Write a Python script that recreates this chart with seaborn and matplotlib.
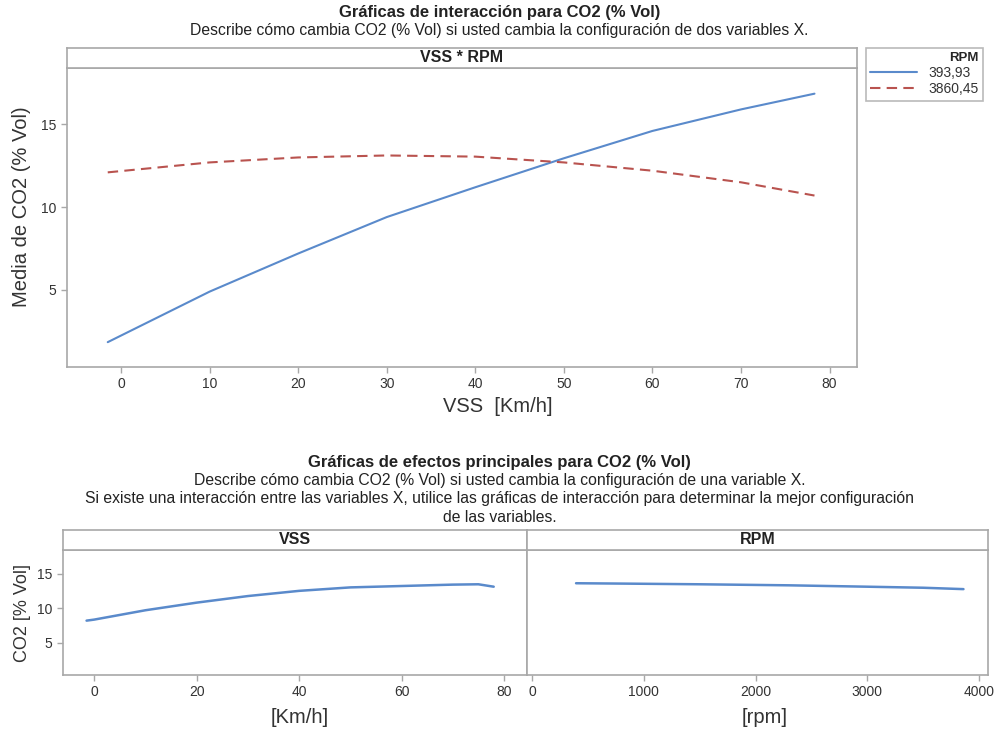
import numpy as np
import pandas as pd
import seaborn as sns
import matplotlib
matplotlib.use("Agg")
import matplotlib.pyplot as plt
from matplotlib.lines import Line2D

sns.set_theme(style="white")
plt.rcParams['font.family'] = ['Liberation Sans', 'DejaVu Sans']

# Interaction plot: fitted mean CO2 vs VSS for the two RPM levels
vss_pts = [-1.5, 10, 20, 30, 40, 50, 60, 70, 78.3]
co2_rpm_low = [1.85, 4.9, 7.2, 9.4, 11.2, 12.95, 14.6, 15.9, 16.85]
co2_rpm_high = [12.1, 12.7, 13.0, 13.12, 13.05, 12.7, 12.2, 11.5, 10.7]
rpm_levels = ["393,93", "3860,45"]

# Main effects: VSS and RPM
vss_main_x = [-1.5, 0, 10, 20, 30, 40, 50, 60, 70, 75, 78]
vss_main_y = [8.2, 8.35, 9.7, 10.8, 11.75, 12.5, 13.0, 13.2, 13.4, 13.45, 13.1]
rpm_main_x = [393.93, 800, 1500, 2300, 3000, 3500, 3860.45]
rpm_main_y = [13.6, 13.55, 13.45, 13.3, 13.1, 12.95, 12.75]

BLUE = "#5A8ACB"
RED = "#B9534F"
SPINE = "#A8A8A8"
TXT = "#333333"

W, H = 999, 736
fig = plt.figure(figsize=(W / 100, H / 100), dpi=100)


def px_axes(x0, y0, x1, y1):
    return fig.add_axes([x0 / W, 1 - y1 / H, (x1 - x0) / W, (y1 - y0) / H])


def style_axes(ax):
    for s in ax.spines.values():
        s.set_color(SPINE)
        s.set_linewidth(1.2)
    ax.tick_params(axis="both", which="both", direction="out", length=4,
                   width=1, color=SPINE, labelsize=10, labelcolor=TXT,
                   bottom=True, left=True)
    ax.grid(False)


def strip(x0, y0, x1, y1, label):
    sa = px_axes(x0, y0, x1, y1)
    sa.set_xticks([])
    sa.set_yticks([])
    for s in sa.spines.values():
        s.set_color(SPINE)
        s.set_linewidth(1.2)
    sa.text(0.5, 0.5, label, ha="center", va="center", fontsize=11.5,
            fontweight="bold", color="#222222", transform=sa.transAxes)
    return sa


def ftext(ypx, s, size, bold=False):
    fig.text(0.5, 1 - ypx / H, s, ha="center", va="center", fontsize=size,
             fontweight="bold" if bold else "normal", color="#222222")


# ---- top: interaction plot ----
df_int = pd.DataFrame({
    "VSS": vss_pts * 2,
    "CO2": co2_rpm_low + co2_rpm_high,
    "RPM": [rpm_levels[0]] * len(vss_pts) + [rpm_levels[1]] * len(vss_pts),
})

ax1 = px_axes(67, 68, 857, 367)
sns.lineplot(data=df_int, x="VSS", y="CO2", hue="RPM", style="RPM",
             palette=[BLUE, RED], dashes=[(None, None), (5, 3)],
             linewidth=1.5, ax=ax1, legend=False)
ax1.set_xlim(-6.1, 83.1)
ax1.set_ylim(0.35, 18.4)
ax1.set_xticks(range(0, 81, 10))
ax1.set_yticks([5, 10, 15])
style_axes(ax1)
ax1.set_xlabel("VSS  [Km/h]", fontsize=14.5, color=TXT)
ax1.xaxis.set_label_coords((498 - 67) / 790, -(397 - 367) / 299)
ax1.set_ylabel("Media de CO2 (% Vol)", fontsize=14.5, color=TXT)
ax1.yaxis.set_label_coords(-(67 - 31) / 790, (367 - 207) / 299)
strip(67, 48, 857, 68, "VSS * RPM")

ftext(13, "Gráficas de interacción para CO2 (% Vol)", 12, bold=True)
ftext(31, "Describe cómo cambia CO2 (% Vol) si usted cambia la configuración de dos variables X.", 11.3)

# legend
handles = [Line2D([], [], color=BLUE, lw=1.5),
           Line2D([], [], color=RED, lw=1.5, dashes=(5, 3))]
leg = fig.legend(handles, rpm_levels, title="RPM", loc="upper left",
                 bbox_to_anchor=(866 / W, 1 - 48 / H), borderaxespad=0,
                 frameon=True, fontsize=10, title_fontsize=9.5,
                 handlelength=3.4, borderpad=0.3, labelspacing=0.15,
                 alignment="right", fancybox=False)
leg.get_frame().set_edgecolor(SPINE)
leg.get_frame().set_linewidth(1.2)
leg.get_title().set_fontweight("bold")
for t in leg.get_texts():
    t.set_color(TXT)

# ---- bottom: main effects ----
ftext(463, "Gráficas de efectos principales para CO2 (% Vol)", 12, bold=True)
ftext(481, "Describe cómo cambia CO2 (% Vol) si usted cambia la configuración de una variable X.", 11.3)
ftext(499, "Si existe una interacción entre las variables X, utilice las gráficas de interacción para determinar la mejor configuración", 11.3)
ftext(517, "de las variables.", 11.3)

df_vss = pd.DataFrame({"x": vss_main_x, "y": vss_main_y})
df_rpm = pd.DataFrame({"x": rpm_main_x, "y": rpm_main_y})

ax2 = px_axes(63, 550, 527, 675)
sns.lineplot(data=df_vss, x="x", y="y", color=BLUE, linewidth=1.8, ax=ax2)
ax2.set_xlim(-6.1, 84.5)
ax2.set_ylim(0.35, 18.4)
ax2.set_xticks(range(0, 81, 20))
ax2.set_yticks([5, 10, 15])
style_axes(ax2)
ax2.set_xlabel("[Km/h]", fontsize=14.5, color=TXT)
ax2.xaxis.set_label_coords((300 - 63) / 464, -(708 - 675) / 125)
ax2.set_ylabel("CO2 [% Vol]", fontsize=13, color=TXT)
ax2.yaxis.set_label_coords(-(63 - 31) / 464, 0.5)
strip(63, 530, 527, 550, "VSS")

ax3 = px_axes(527, 550, 988, 675)
sns.lineplot(data=df_rpm, x="x", y="y", color=BLUE, linewidth=1.8, ax=ax3)
ax3.set_xlim(-45, 4080)
ax3.set_ylim(0.35, 18.4)
ax3.set_xticks(range(0, 4001, 1000))
ax3.set_yticks([5, 10, 15])
style_axes(ax3)
ax3.tick_params(axis="y", labelleft=False, length=0)
ax3.set_xlabel("[rpm]", fontsize=14.5, color=TXT)
ax3.xaxis.set_label_coords((765 - 527) / 461, -(708 - 675) / 125)
ax3.set_ylabel("")
strip(527, 530, 988, 550, "RPM")

fig.savefig("out.png", dpi=100, facecolor="white")
